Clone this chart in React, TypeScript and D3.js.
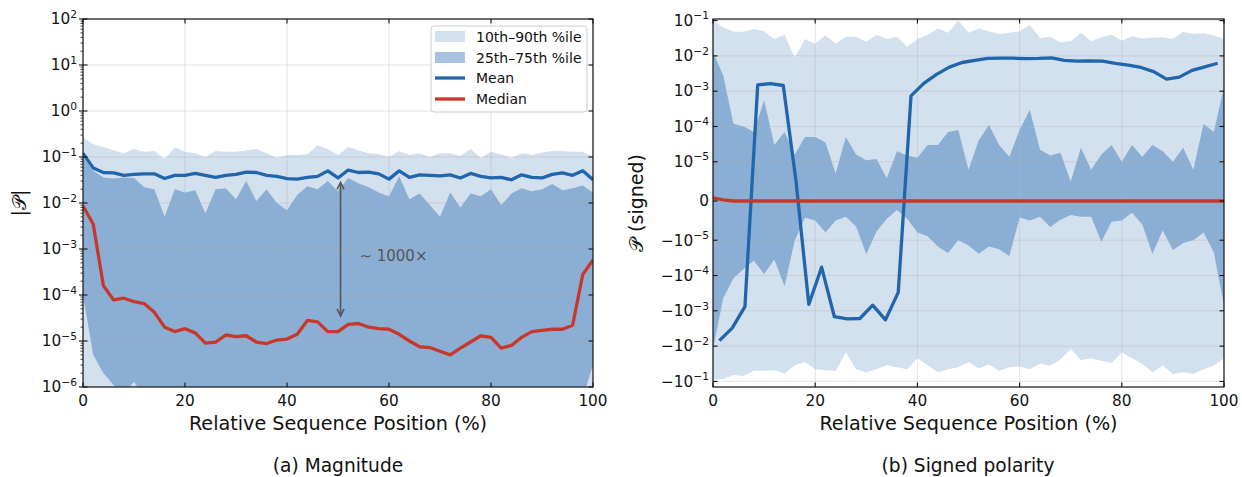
import React, { useEffect, useRef } from 'react';
import * as d3 from 'd3';

const W = 1242;
const H = 477;

// relative sequence position (%) of the binned statistics
const posGrid = [0, 2, 4, 6, 8, 10, 12, 14, 16, 18, 20, 22, 24, 26, 28, 30, 32, 34, 36, 38, 40, 42, 44, 46, 48, 50,
  52, 54, 56, 58, 60, 62, 64, 66, 68, 70, 72, 74, 76, 78, 80, 82, 84, 86, 88, 90, 92, 94, 96, 98, 100];

// (a) magnitude |P|
const magP90 = [0.27, 0.19, 0.165, 0.14, 0.12, 0.15, 0.13, 0.135, 0.09, 0.16,
  0.13, 0.12, 0.10, 0.135, 0.13, 0.13, 0.14, 0.15, 0.12, 0.095,
  0.11, 0.11, 0.115, 0.18, 0.15, 0.11, 0.165, 0.14, 0.12, 0.115,
  0.10, 0.135, 0.11, 0.12, 0.10, 0.12, 0.12, 0.105, 0.15, 0.095,
  0.13, 0.115, 0.095, 0.12, 0.11, 0.125, 0.135, 0.135, 0.13, 0.13, 0.10];
const magP75 = [0.10, 0.05, 0.036, 0.034, 0.036, 0.035, 0.022, 0.02, 0.005, 0.02,
  0.017, 0.019, 0.006, 0.02, 0.021, 0.012, 0.03, 0.011, 0.02, 0.01,
  0.007, 0.015, 0.023, 0.02, 0.03, 0.018, 0.035, 0.027, 0.022, 0.017,
  0.014, 0.038, 0.012, 0.016, 0.009, 0.005, 0.017, 0.008, 0.016, 0.014,
  0.02, 0.009, 0.016, 0.021, 0.018, 0.02, 0.026, 0.019, 0.021, 0.024, 0.017];
const magP25 = [1e-4, 5e-6, 2e-6, 1.1e-6, 7e-7, 1.3e-6, 6e-7, 5e-7, 4e-7, 5e-7,
  4e-7, 5e-7, 3e-7, 4e-7, 5e-7, 4e-7, 3e-7, 4e-7, 5e-7, 4e-7,
  3e-7, 4e-7, 5e-7, 4e-7, 3e-7, 4e-7, 5e-7, 4e-7, 3e-7, 4e-7,
  3e-7, 4e-7, 5e-7, 4e-7, 3e-7, 4e-7, 5e-7, 4e-7, 3e-7, 4e-7,
  4e-7, 5e-7, 4e-7, 3e-7, 4e-7, 5e-7, 4e-7, 5e-7, 4e-7, 6e-7, 3e-6];
const magP10 = [1e-7, 1e-7, 1e-7, 1e-7, 1e-7, 1e-7, 1e-7, 1e-7, 1e-7, 1e-7,
  1e-7, 1e-7, 1e-7, 1e-7, 1e-7, 1e-7, 1e-7, 1e-7, 1e-7, 1e-7,
  1e-7, 1e-7, 1e-7, 1e-7, 1e-7, 1e-7, 1e-7, 1e-7, 1e-7, 1e-7,
  1e-7, 1e-7, 1e-7, 1e-7, 1e-7, 1e-7, 1e-7, 1e-7, 1e-7, 1e-7,
  1e-7, 1e-7, 1e-7, 1e-7, 1e-7, 1e-7, 1e-7, 1e-7, 1e-7, 1e-7, 1e-7];
const magMean = [0.12, 0.058, 0.046, 0.045, 0.04, 0.042, 0.043, 0.043, 0.034, 0.04,
  0.04, 0.044, 0.04, 0.036, 0.04, 0.042, 0.047, 0.046, 0.04, 0.038,
  0.034, 0.033, 0.036, 0.038, 0.05, 0.035, 0.052, 0.046, 0.047, 0.043,
  0.033, 0.05, 0.036, 0.041, 0.04, 0.039, 0.041, 0.035, 0.044, 0.038,
  0.035, 0.036, 0.032, 0.041, 0.036, 0.035, 0.042, 0.045, 0.04, 0.05, 0.032];
const magMedian = [8.6e-3, 3.5e-3, 1.6e-4, 7.8e-5, 8.5e-5, 7.2e-5, 6.5e-5, 4.2e-5, 2e-5, 1.6e-5,
  1.85e-5, 1.5e-5, 9e-6, 9.5e-6, 1.35e-5, 1.25e-5, 1.3e-5, 9.5e-6, 8.8e-6, 1.05e-5,
  1.1e-5, 1.4e-5, 2.8e-5, 2.6e-5, 1.6e-5, 1.6e-5, 2.3e-5, 2.4e-5, 2e-5, 1.85e-5,
  1.8e-5, 1.4e-5, 1e-5, 7.5e-6, 7.2e-6, 6e-6, 5e-6, 7e-6, 9.5e-6, 1.3e-5,
  1.2e-5, 7e-6, 8e-6, 1.2e-5, 1.6e-5, 1.7e-5, 1.8e-5, 1.8e-5, 2.2e-5, 2.8e-4, 5.8e-4];

// (b) signed polarity P
const sgnP90 = [0.1, 0.065, 0.048, 0.048, 0.058, 0.05, 0.03, 0.04, 0.009, 0.03,
  0.022, 0.038, 0.022, 0.035, 0.035, 0.025, 0.04, 0.03, 0.035, 0.018,
  0.03, 0.04, 0.06, 0.045, 0.1, 0.045, 0.06, 0.05, 0.042, 0.045,
  0.05, 0.075, 0.032, 0.035, 0.024, 0.026, 0.045, 0.026, 0.034, 0.04,
  0.027, 0.036, 0.031, 0.033, 0.033, 0.03, 0.048, 0.042, 0.044, 0.038, 0.03];
const sgnP75 = [0.013, 2.8e-3, 1.2e-4, 1.0e-4, 7e-5, 5.6e-4, 3e-5, 7e-5, 1.6e-5, 5e-5,
  5e-5, 3.5e-5, 7e-6, 5e-5, 1.6e-5, 1.1e-5, 1.2e-5, 5.8e-6, 2e-5, 1.5e-5,
  1.3e-5, 3e-5, 3e-5, 7e-5, 8e-5, 8e-6, 4e-5, 1.1e-4, 3e-5, 1.4e-5,
  8e-5, 3e-4, 2.2e-5, 1.5e-5, 1.8e-5, 5e-6, 2.5e-5, 8e-6, 1.6e-5, 3e-5,
  1e-5, 3e-5, 1.4e-5, 3e-5, 2e-5, 1e-5, 2.5e-5, 8e-6, 1.2e-4, 7e-5, 1.3e-3];
const sgnP25 = [-0.012, -4.4e-4, -1.2e-4, -6.5e-5, -3.8e-5, -9e-5, -3.5e-5, -2e-4, -1e-5, -4.3e-6,
  -5e-6, -8e-6, -5e-6, -4e-6, -6.5e-6, -2.5e-5, -7.8e-6, -4.5e-6, -2.3e-6, -4.5e-6,
  -8e-6, -9e-6, -1.5e-5, -2.3e-5, -1e-5, -1.4e-5, -2.4e-5, -1.5e-5, -1.8e-5, -2.8e-5,
  -4.2e-6, -5e-6, -4e-6, -6.6e-6, -4.8e-6, -3.6e-6, -4e-6, -4e-6, -1.1e-5, -5.3e-6,
  -5e-6, -3e-6, -6e-6, -2.4e-5, -7.5e-6, -1.9e-5, -1.2e-5, -1e-5, -8e-6, -2.2e-5, -6.9e-4];
const sgnP10 = [-0.09, -0.085, -0.066, -0.07, -0.05, -0.05, -0.048, -0.06, -0.035, -0.028,
  -0.045, -0.048, -0.05, -0.015, -0.045, -0.055, -0.045, -0.035, -0.04, -0.045,
  -0.022, -0.035, -0.055, -0.045, -0.04, -0.028, -0.043, -0.033, -0.05, -0.04,
  -0.038, -0.045, -0.031, -0.036, -0.024, -0.012, -0.025, -0.022, -0.026, -0.03,
  -0.015, -0.022, -0.032, -0.055, -0.035, -0.062, -0.055, -0.062, -0.045, -0.036, -0.022];
const sgnMedian = [8e-7, 3e-7, 0, 0, 0, 0, 0, 0, 0, 0,
  0, 0, 0, 0, 0, 0, 0, 0, 0, 0,
  0, 0, 0, 0, 0, 0, 0, 0, 0, 0,
  0, 0, 0, 0, 0, 0, 0, 0, 0, 0,
  0, 0, 0, 0, 0, 0, 0, 0, 0, 0, 0];
const sgnMeanPos = [1.25, 3.75, 6.25, 8.75, 11.25, 13.75, 16.25, 18.75, 21.25, 23.75,
  26.25, 28.75, 31.25, 33.75, 36.25, 38.75, 41.25, 43.75, 46.25, 48.75,
  51.25, 53.75, 56.25, 58.75, 61.25, 63.75, 66.25, 68.75, 71.25, 73.75,
  76.25, 78.75, 81.25, 83.75, 86.25, 88.75, 91.25, 93.75, 96.25, 98.75];
const sgnMean = [-7e-3, -3.1e-3, -7.6e-4, 1.5e-3, 1.65e-3, 1.45e-3, 5e-6, -6.6e-4, -5.8e-5, -1.47e-3,
  -1.7e-3, -1.65e-3, -6.9e-4, -1.8e-3, -3e-4, 7.4e-4, 1.67e-3, 3.0e-3, 4.8e-3, 6.5e-3,
  7.5e-3, 8.5e-3, 8.7e-3, 8.6e-3, 8.4e-3, 8.5e-3, 8.8e-3, 7.5e-3, 7.1e-3, 7.2e-3,
  7.1e-3, 6.1e-3, 5.5e-3, 4.7e-3, 3.6e-3, 2.2e-3, 2.5e-3, 3.9e-3, 4.9e-3, 6.2e-3];

const xTicks = [0, 20, 40, 60, 80, 100];
const magTickExp = [-6, -5, -4, -3, -2, -1, 0, 1, 2];
const sgnTickExp = [-1, -2, -3, -4, -5];
const legendLabels = ['10th\u201390th %ile', '25th\u201375th %ile', 'Mean', 'Median'];

// ~1000x annotation between mean and median at mid-sequence
const arrowPos = 50.5;
const arrowTop = 0.028;
const arrowBottom = 3.5e-5;

// matplotlib-style symlog, linthresh 1e-5, linscale 1
const LT = 1e-5;
const LS = 1 / (1 - 1 / 10);
const symlog = (v: number) => {
  const a = Math.abs(v);
  return a <= LT ? (v / LT) * LS : Math.sign(v) * (LS + Math.log10(a / LT));
};

const FONT = "'DejaVu Sans', 'Liberation Sans', sans-serif";
const BLUE = '#2166ac';
const RED = '#c8382a';
const GRAY = '#555555';

const App = () => {
  const svgRef = useRef<SVGSVGElement>(null);

  useEffect(() => {
    const svg = d3.select(svgRef.current);
    svg.selectAll('*').remove();
    svg.attr('font-family', FONT);

    const top = 19;
    const bottom = 387;
    const tickFs = 15.3;

    const expLabel = (g: any, x: number, y: number, prefix: string, exp: string, anchor = 'end') => {
      const t = g.append('text')
        .attr('x', x).attr('y', y + 5.3)
        .attr('text-anchor', anchor)
        .attr('font-size', tickFs)
        .attr('fill', '#111');
      t.append('tspan').text(prefix + '10');
      t.append('tspan').attr('dy', -6.6).attr('font-size', 10.7).text(exp);
    };

    const defs = svg.append('defs');

    const panel = (x0: number, x1: number, id: string, yFn: (v: number) => number, yTicks: number[]) => {
      const x = d3.scaleLinear().domain([0, 100]).range([x0, x1]);
      defs.append('clipPath').attr('id', id)
        .append('rect').attr('x', x0).attr('y', top).attr('width', x1 - x0).attr('height', bottom - top);
      const g = svg.append('g');
      const plot = g.append('g').attr('clip-path', `url(#${id})`);
      return { x, g, plot, yFn, yTicks };
    };

    const bands = (p: any, lo10: number[], lo25: number[], hi75: number[], hi90: number[]) => {
      const pts = posGrid.map((pos, i) => ({ pos, a: lo10[i], b: lo25[i], c: hi75[i], d: hi90[i] }));
      const outer = d3.area<any>().x(d => p.x(d.pos)).y0(d => p.yFn(d.a)).y1(d => p.yFn(d.d));
      const inner = d3.area<any>().x(d => p.x(d.pos)).y0(d => p.yFn(d.b)).y1(d => p.yFn(d.c));
      p.plot.append('path').attr('d', outer(pts)).attr('fill', BLUE).attr('fill-opacity', 0.2);
      p.plot.append('path').attr('d', inner(pts)).attr('fill', BLUE).attr('fill-opacity', 0.4);
    };

    const grid = (p: any) => {
      const [x0, x1] = p.x.range();
      xTicks.forEach(t => {
        p.plot.append('line').attr('x1', p.x(t)).attr('x2', p.x(t)).attr('y1', top).attr('y2', bottom)
          .attr('stroke', '#b0b0b0').attr('stroke-opacity', 0.4).attr('stroke-width', 0.9);
      });
      p.yTicks.forEach((v: number) => {
        p.plot.append('line').attr('x1', x0).attr('x2', x1).attr('y1', p.yFn(v)).attr('y2', p.yFn(v))
          .attr('stroke', '#b0b0b0').attr('stroke-opacity', 0.4).attr('stroke-width', 0.9);
      });
    };

    const drawLine = (p: any, xs: number[], ys: number[], color: string) => {
      const line = d3.line<number>().x((_, i) => p.x(xs[i])).y(d => p.yFn(d));
      p.plot.append('path').attr('d', line(ys)).attr('fill', 'none')
        .attr('stroke', color).attr('stroke-width', 3.3).attr('stroke-linejoin', 'round');
    };

    const frame = (p: any, leftOut: boolean) => {
      const [x0, x1] = p.x.range();
      const g = p.g;
      g.append('rect').attr('x', x0).attr('y', top).attr('width', x1 - x0).attr('height', bottom - top)
        .attr('fill', 'none').attr('stroke', '#111').attr('stroke-width', 1.2);
      xTicks.forEach(t => {
        const xx = p.x(t);
        g.append('line').attr('x1', xx).attr('x2', xx).attr('y1', bottom).attr('y2', bottom - 4.5).attr('stroke', '#111').attr('stroke-width', 1.1);
        g.append('line').attr('x1', xx).attr('x2', xx).attr('y1', top).attr('y2', top + 4.5).attr('stroke', '#111').attr('stroke-width', 1.1);
        g.append('text').attr('x', xx).attr('y', bottom + 18.5).attr('text-anchor', 'middle')
          .attr('font-size', tickFs).attr('fill', '#111').text(t);
      });
      p.yTicks.forEach((v: number) => {
        const yy = p.yFn(v);
        g.append('line').attr('x1', leftOut ? x0 - 4 : x0).attr('x2', x0 + 4.5).attr('y1', yy).attr('y2', yy).attr('stroke', '#111').attr('stroke-width', 1.1);
        g.append('line').attr('x1', x1).attr('x2', x1 - 4.5).attr('y1', yy).attr('y2', yy).attr('stroke', '#111').attr('stroke-width', 1.1);
      });
      g.append('text').attr('x', (x0 + x1) / 2).attr('y', bottom + 42.5).attr('text-anchor', 'middle')
        .attr('font-size', 19.2).attr('fill', '#111').text('Relative Sequence Position (%)');
    };

    // ---------- (a) magnitude ----------
    const yA = d3.scaleLog().domain([1e-6, 1e2]).range([bottom, top]);
    const pA = panel(83, 593, 'clipA', v => yA(v), magTickExp.map(e => Math.pow(10, e)));
    bands(pA, magP10, magP25, magP75, magP90);
    grid(pA);
    drawLine(pA, posGrid, magMean, BLUE);
    drawLine(pA, posGrid, magMedian, RED);

    // arrow + label
    const ax = pA.x(arrowPos);
    const ay0 = yA(arrowTop);
    const ay1 = yA(arrowBottom);
    const ann = pA.g.append('g').attr('stroke', GRAY).attr('stroke-width', 1.6).attr('fill', 'none');
    ann.append('line').attr('x1', ax).attr('x2', ax).attr('y1', ay0).attr('y2', ay1);
    ann.append('path').attr('d', `M${ax - 3.5},${ay0 + 7}L${ax},${ay0}L${ax + 3.5},${ay0 + 7}`);
    ann.append('path').attr('d', `M${ax - 3.5},${ay1 - 7}L${ax},${ay1}L${ax + 3.5},${ay1 - 7}`);
    pA.g.append('text').attr('x', pA.x(54.2)).attr('y', yA(7.4e-4) + 5.5)
      .attr('font-size', 15).attr('fill', GRAY).text('\u223C 1000\u00D7');

    frame(pA, true);
    // minor log ticks on the left spine
    magTickExp.slice(0, -1).forEach(e => {
      d3.range(2, 10).forEach(m => {
        const yy = yA(m * Math.pow(10, e));
        pA.g.append('line').attr('x1', 83 - 2.5).attr('x2', 83).attr('y1', yy).attr('y2', yy)
          .attr('stroke', '#111').attr('stroke-width', 0.8);
      });
    });
    magTickExp.forEach(e => {
      expLabel(pA.g, 77, yA(Math.pow(10, e)), '', e < 0 ? `\u2212${-e}` : `${e}`);
    });
    pA.g.append('text').attr('transform', `translate(26,${(top + bottom) / 2}) rotate(-90)`)
      .attr('text-anchor', 'middle').attr('font-size', 19).attr('fill', '#111')
      .text('|\uD835\uDCAB|');

    // legend
    const lg = pA.g.append('g');
    lg.append('rect').attr('x', 431).attr('y', 26).attr('width', 156).attr('height', 86).attr('rx', 3)
      .attr('fill', '#fff').attr('fill-opacity', 0.85).attr('stroke', '#cccccc');
    const rows = [36.5, 57.5, 78, 99];
    lg.append('rect').attr('x', 435).attr('y', rows[0] - 5.5).attr('width', 30).attr('height', 11).attr('fill', BLUE).attr('fill-opacity', 0.2);
    lg.append('rect').attr('x', 435).attr('y', rows[1] - 5.5).attr('width', 30).attr('height', 11).attr('fill', BLUE).attr('fill-opacity', 0.4);
    lg.append('line').attr('x1', 435).attr('x2', 465).attr('y1', rows[2]).attr('y2', rows[2]).attr('stroke', BLUE).attr('stroke-width', 3.3);
    lg.append('line').attr('x1', 435).attr('x2', 465).attr('y1', rows[3]).attr('y2', rows[3]).attr('stroke', RED).attr('stroke-width', 3.3);
    legendLabels.forEach((l, i) => {
      lg.append('text').attr('x', 476).attr('y', rows[i] + 5).attr('font-size', 14).attr('fill', '#111').text(l);
    });

    pA.g.append('text').attr('x', 338).attr('y', 472).attr('text-anchor', 'middle')
      .attr('font-size', 18.6).attr('fill', '#111').text('(a) Magnitude');

    // ---------- (b) signed polarity ----------
    const yBlin = d3.scaleLinear().domain([symlog(-0.144), symlog(0.111)]).range([bottom, top]);
    const yB = (v: number) => yBlin(symlog(v));
    const sgnTicks = [...sgnTickExp.map(e => Math.pow(10, e)), 0, ...sgnTickExp.map(e => -Math.pow(10, e))];
    const pB = panel(713, 1224, 'clipB', yB, sgnTicks);
    bands(pB, sgnP10, sgnP25, sgnP75, sgnP90);
    grid(pB);
    drawLine(pB, sgnMeanPos, sgnMean, BLUE);
    drawLine(pB, posGrid, sgnMedian, RED);
    frame(pB, false);
    sgnTickExp.forEach(e => {
      expLabel(pB.g, 709, yB(Math.pow(10, e)), '', `\u2212${-e}`);
      expLabel(pB.g, 709, yB(-Math.pow(10, e)), '\u2212', `\u2212${-e}`);
    });
    pB.g.append('text').attr('x', 709).attr('y', yB(0) + 5.3).attr('text-anchor', 'end')
      .attr('font-size', tickFs).attr('fill', '#111').text('0');
    pB.g.append('text').attr('transform', `translate(643,${(top + bottom) / 2}) rotate(-90)`)
      .attr('text-anchor', 'middle').attr('font-size', 19).attr('fill', '#111')
      .text('\uD835\uDCAB (signed)');
    pB.g.append('text').attr('x', 968).attr('y', 472).attr('text-anchor', 'middle')
      .attr('font-size', 18.6).attr('fill', '#111').text('(b) Signed polarity');
  }, []);

  return (
    <svg ref={svgRef} width={W} height={H}
      style={{ position: 'absolute', left: 0, top: 0, background: '#fff' }} />
  );
};

export default App;
